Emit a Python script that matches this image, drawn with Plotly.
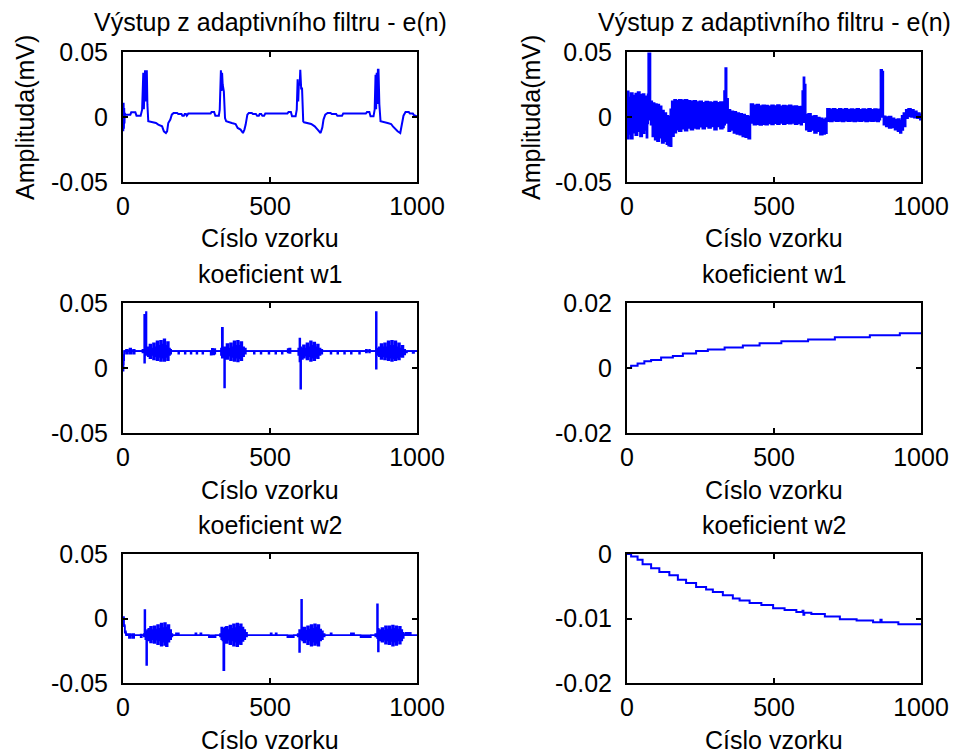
import plotly.graph_objects as go

# ---------------- data ----------------
# Panel 1: e(n), left column
e1_x = [0, 1, 2, 3, 4, 5, 6, 8, 25, 28, 42, 46, 60, 65, 69, 71, 73, 75, 77, 79, 81, 83, 86,
        112, 120, 133, 139, 146, 150, 154, 161, 166, 172, 184, 188, 199, 202, 207, 210, 214, 217, 222,
        298, 301, 310, 314, 326, 329, 333, 335, 337, 339, 341, 343, 347, 351, 370, 383, 390, 400,
        408, 413, 417, 423, 428, 438, 442, 452, 456, 462, 465, 470, 474, 480, 484,
        559, 563, 571, 575, 587, 591, 594, 596, 598, 601, 603, 606, 609, 613, 616, 640, 652, 662,
        672, 678, 682, 688, 696, 706, 710, 725, 729, 745, 749,
        826, 830, 838, 842, 852, 856, 859, 861, 863, 865, 867, 869, 872, 876, 900, 912, 918, 928,
        934, 943, 948, 954, 961, 972, 976, 986, 990, 1000]
e1_y = [0.008, -0.011, 0.011, -0.009, 0.007, -0.005, 0.003, 0.0018, 0.0018, 0.0036, 0.0036, 0.001,
        0.001, 0.0056, 0.034, 0.006, 0.03, 0.036, 0.012, 0.036, 0.036, 0.0095, -0.0033,
        -0.0046, -0.0059, -0.0072, -0.011, -0.0123, -0.011, -0.0046, -0.002, 0.0018, 0.0031, 0.0031,
        0.0023, 0.0023, 0.001, 0.001, 0.0023, 0.0023, 0.001, 0.0026,
        0.0026, 0.0038, 0.0038, 0.001, 0.001, 0.0056, 0.036, 0.02, 0.034, 0.025, 0.0197, 0.0197,
        -0.0008, -0.0033, -0.0046, -0.0054, -0.0084, -0.0097,
        -0.0123, -0.0097, -0.006, 0.0018, 0.0031, 0.0031, 0.0023, 0.0023, 0.001, 0.001, 0.0023,
        0.0023, 0.001, 0.001, 0.0026,
        0.0026, 0.0038, 0.0038, 0.0005, 0.0005, 0.0056, 0.029, 0.012, 0.0248, 0.0248, 0.0364, 0.022,
        0.022, -0.0033, -0.0041, -0.0054, -0.0072, -0.0097,
        -0.0123, -0.008, -0.002, 0.0018, 0.0031, 0.0031, 0.0023, 0.0023, 0.001, 0.001, 0.0026,
        0.0026, 0.0038, 0.0038, 0.0005, 0.0005, 0.0056, 0.0325, 0.006, 0.034, 0.01, 0.0364, 0.0364,
        0.0095, -0.0033, -0.0046, -0.0054, -0.0072, -0.0097,
        -0.011, -0.0123, -0.0054, 0.001, 0.0038, 0.0038, 0.0026, 0.0026, 0.0013, 0.0005]

# Panel 2: e(n), right column (noisy band: upper / lower envelope)
e2_x = [0, 6, 12, 20, 28, 36, 44, 52, 60, 66, 70, 72, 77, 80, 86, 94, 102, 110, 118, 126, 134,
        140, 147, 152, 160, 168, 176, 186, 196, 206, 216, 226, 236, 246, 256, 266, 276, 286, 296,
        306, 316, 326, 330, 334, 339, 344, 352, 362, 372, 382, 392, 402, 412, 420, 430, 440, 450,
        460, 470, 480, 490, 500, 510, 520, 530, 540, 550, 560, 570, 580, 590, 596, 600, 604, 608,
        616, 626, 636, 646, 656, 666, 674, 680, 690, 700, 710, 720, 730, 740, 750, 760, 770, 780,
        790, 800, 810, 820, 830, 840, 850, 858, 862, 868, 872, 880, 890, 900, 910, 920, 928, 934,
        940, 948, 956, 966, 976, 986, 996, 1000]
e2_hi = [0.0197, 0.015, 0.0185, 0.0165, 0.018, 0.0192, 0.017, 0.0177, 0.016, 0.015, 0.0175, 0.049,
         0.049, 0.012, 0.0108, 0.01, 0.0095, 0.0082, 0.005, 0.003, 0.001,
         0.0005, 0.006, 0.012, 0.0133, 0.0125, 0.0133, 0.0128, 0.0133, 0.0125, 0.012, 0.0125, 0.0115,
         0.012, 0.011, 0.0118, 0.0115, 0.0112, 0.0118,
         0.011, 0.0115, 0.011, 0.02, 0.0376, 0.014, 0.0056, 0.0044, 0.004, 0.0031, 0.0025, 0.0018,
         0.001, 0.0005, 0.01, 0.009, 0.0095, 0.0085,
         0.009, 0.0088, 0.0082, 0.009, 0.0085, 0.0092, 0.0082, 0.0088, 0.0085, 0.009, 0.0082, 0.0085,
         0.0078, 0.008, 0.02, 0.0305, 0.025, 0.0018,
         0.0025, 0.0005, 0.001, -0.0005, -0.001, -0.002, -0.001, 0.0064, 0.006, 0.0064, 0.0056,
         0.0064, 0.0058, 0.0064, 0.0056, 0.0062, 0.0058, 0.0064,
         0.0056, 0.0062, 0.0058, 0.0064, 0.0056, 0.0062, 0.0058, 0.006, 0.0364, 0.035, 0.0005, 0.0,
         0.0003, -0.001, -0.002, -0.0015, -0.003, 0.001,
         0.0031, 0.0056, 0.0064, 0.0056, 0.0044, 0.0031, 0.002, 0.0015]
e2_lo = [-0.0166, -0.013, -0.0166, -0.012, -0.014, -0.011, -0.015, -0.0125, -0.01, -0.016, -0.005,
         -0.002, 0.0, -0.006, -0.015, -0.0174, -0.0187, -0.016, -0.02, -0.0187, -0.021,
         -0.022, -0.0225, -0.0148, -0.012, -0.0097, -0.011, -0.009, -0.0105, -0.0085, -0.0097,
         -0.0085, -0.009, -0.0075, -0.009, -0.0072, -0.0085, -0.0072, -0.0097,
         -0.0072, -0.009, -0.008, -0.006, -0.004, -0.0046, -0.011, -0.01, -0.0123, -0.013, -0.0136,
         -0.015, -0.0156, -0.0166, -0.0046, -0.006, -0.0055, -0.0062,
         -0.0055, -0.006, -0.005, -0.0058, -0.0048, -0.0055, -0.0046, -0.0055, -0.0048, -0.0052,
         -0.0046, -0.0055, -0.005, -0.006, -0.004, -0.003, -0.004, -0.0097,
         -0.011, -0.01, -0.0123, -0.011, -0.0136, -0.013, -0.0125, -0.0033, -0.0035, -0.0028,
         -0.0033, -0.003, -0.0035, -0.0028, -0.0033, -0.003, -0.0035, -0.003,
         -0.0033, -0.0028, -0.0035, -0.003, -0.0033, -0.003, -0.0035, -0.002, 0.0, 0.001, -0.006,
         -0.0072, -0.0085, -0.008, -0.0097, -0.011, -0.0123, -0.01,
         -0.0072, -0.001, 0.0005, 0.0, -0.0005, -0.001, -0.002, -0.0025]

# Panel 3: coefficient w1, left column -- rows of (sample, upper, lower)
w1l_rows = [
    (0, 0.003, -0.002), (2, 0.010, 0.006), (4, 0.013, 0.013), (10, 0.014, 0.011),
    (16, 0.013, 0.013), (22, 0.015, 0.011), (28, 0.013, 0.013), (34, 0.014, 0.011),
    (40, 0.013, 0.013), (62, 0.013, 0.013), (66, 0.014, 0.012), (70, 0.013, 0.013),
    (72, 0.041, 0.004), (75, 0.015, 0.010), (78, 0.043, 0.012), (80, 0.015, 0.010),
    (84, 0.016, 0.009), (90, 0.018, 0.0075), (96, 0.015, 0.010), (102, 0.019, 0.0065),
    (108, 0.016, 0.009), (114, 0.0205, 0.006), (120, 0.017, 0.0085), (126, 0.021, 0.0055),
    (132, 0.018, 0.008), (138, 0.022, 0.0055), (144, 0.017, 0.0085), (150, 0.020, 0.006),
    (156, 0.015, 0.010), (160, 0.014, 0.011), (164, 0.013, 0.013), (188, 0.013, 0.011),
    (191, 0.013, 0.013), (210, 0.013, 0.011), (213, 0.013, 0.013), (230, 0.013, 0.011),
    (233, 0.013, 0.013), (250, 0.013, 0.011), (253, 0.013, 0.013), (270, 0.013, 0.011),
    (273, 0.013, 0.013), (298, 0.013, 0.0103), (302, 0.0147, 0.011), (306, 0.014, 0.0105),
    (310, 0.0145, 0.011), (314, 0.013, 0.013), (330, 0.013, 0.013), (333, 0.015, 0.010),
    (336, 0.031, 0.008), (340, 0.016, 0.010), (344, 0.013, -0.015), (347, 0.016, 0.009),
    (352, 0.0185, 0.007), (358, 0.015, 0.0095), (364, 0.019, 0.006), (370, 0.016, 0.0085),
    (376, 0.0205, 0.0055), (382, 0.017, 0.008), (388, 0.021, 0.005), (394, 0.017, 0.0075),
    (400, 0.020, 0.006), (406, 0.016, 0.009), (412, 0.015, 0.011), (418, 0.013, 0.013),
    (445, 0.013, 0.011), (448, 0.013, 0.013), (468, 0.013, 0.011), (471, 0.013, 0.013),
    (495, 0.013, 0.011), (498, 0.013, 0.013), (518, 0.013, 0.011), (521, 0.013, 0.013),
    (540, 0.013, 0.011), (543, 0.013, 0.013), (560, 0.0145, 0.012), (565, 0.015, 0.0115),
    (570, 0.013, 0.013), (592, 0.013, 0.013), (596, 0.015, 0.010), (600, 0.0226, 0.005),
    (603, 0.016, -0.016), (606, 0.015, 0.007), (612, 0.0175, 0.008), (618, 0.015, 0.0095),
    (624, 0.019, 0.0065), (630, 0.016, 0.009), (636, 0.0205, 0.0055), (642, 0.017, 0.008),
    (648, 0.0195, 0.006), (654, 0.016, 0.0085), (660, 0.018, 0.0075), (666, 0.015, 0.010),
    (672, 0.014, 0.011), (678, 0.013, 0.013), (706, 0.013, 0.011), (709, 0.013, 0.013),
    (729, 0.013, 0.011), (732, 0.013, 0.013), (752, 0.013, 0.011), (755, 0.013, 0.013),
    (775, 0.013, 0.011), (778, 0.013, 0.013), (803, 0.013, 0.011), (806, 0.013, 0.013),
    (826, 0.014, 0.012), (830, 0.013, 0.013), (837, 0.014, 0.012), (840, 0.013, 0.013),
    (856, 0.013, 0.013), (860, 0.043, -0.0005), (863, 0.015, 0.010), (870, 0.016, 0.009),
    (876, 0.0185, 0.007), (882, 0.016, 0.009), (888, 0.019, 0.0065), (894, 0.016, 0.0085),
    (900, 0.0205, 0.006), (906, 0.017, 0.008), (912, 0.021, 0.0055), (918, 0.017, 0.0075),
    (924, 0.0205, 0.006), (930, 0.016, 0.008), (936, 0.019, 0.0065), (942, 0.015, 0.009),
    (948, 0.017, 0.0085), (954, 0.014, 0.0105), (960, 0.013, 0.012), (966, 0.013, 0.013),
    (985, 0.013, 0.0115), (990, 0.013, 0.013), (1000, 0.013, 0.013),
]

# Panel 4: coefficient w2, left column -- rows of (sample, upper, lower)
w2l_rows = [
    (0, 0.001, 0.001), (3, -0.005, -0.006), (6, -0.010, -0.011), (10, -0.012, -0.013),
    (15, -0.013, -0.013), (20, -0.012, -0.015), (26, -0.013, -0.013), (32, -0.012, -0.015),
    (38, -0.013, -0.013), (56, -0.013, -0.013), (60, -0.0125, -0.0145), (64, -0.013, -0.013),
    (71, -0.012, -0.014), (73, 0.0066, -0.012), (76, -0.010, -0.016), (79, -0.010, -0.036),
    (82, -0.009, -0.016), (86, -0.008, -0.017), (92, -0.0065, -0.0185), (98, -0.009, -0.016),
    (104, -0.006, -0.019), (110, -0.0085, -0.0165), (116, -0.005, -0.020), (122, -0.008, -0.017),
    (128, -0.004, -0.021), (134, -0.0075, -0.018), (140, -0.0035, -0.0205), (146, -0.007, -0.0215),
    (152, -0.005, -0.018), (158, -0.009, -0.016), (164, -0.012, -0.014), (168, -0.013, -0.013),
    (180, -0.0115, -0.013), (190, -0.013, -0.013), (246, -0.0115, -0.013), (250, -0.013, -0.013),
    (263, -0.0115, -0.013), (267, -0.013, -0.013), (292, -0.013, -0.0145), (315, -0.013, -0.013),
    (330, -0.012, -0.014), (334, -0.007, -0.016), (338, -0.008, -0.017), (341, -0.008, -0.040),
    (345, -0.007, -0.018), (350, -0.0065, -0.019), (356, -0.009, -0.0165), (362, -0.0055, -0.020),
    (368, -0.008, -0.017), (374, -0.0045, -0.021), (380, -0.0075, -0.018), (386, -0.004, -0.0215),
    (392, -0.0065, -0.019), (398, -0.0045, -0.020), (404, -0.007, -0.0175), (410, -0.009, -0.016),
    (416, -0.011, -0.014), (422, -0.013, -0.013), (502, -0.0115, -0.013), (506, -0.013, -0.013),
    (519, -0.0115, -0.013), (523, -0.013, -0.013), (559, -0.013, -0.0145), (581, -0.013, -0.013),
    (594, -0.012, -0.014), (599, -0.009, -0.026), (602, -0.009, -0.016), (606, 0.0145, -0.016),
    (609, -0.009, -0.017), (614, -0.007, -0.0185), (620, -0.0095, -0.016), (626, -0.006, -0.020),
    (632, -0.0085, -0.017), (638, -0.005, -0.021), (644, -0.008, -0.018), (650, -0.0045, -0.0205),
    (656, -0.007, -0.019), (662, -0.005, -0.021), (668, -0.0085, -0.017), (674, -0.010, -0.016),
    (680, -0.012, -0.014), (686, -0.013, -0.013), (706, -0.0115, -0.013), (710, -0.013, -0.013),
    (775, -0.0115, -0.013), (786, -0.013, -0.013), (808, -0.013, -0.0145), (843, -0.013, -0.013),
    (858, -0.012, -0.014), (864, 0.011, -0.015), (867, -0.008, -0.0255), (870, -0.009, -0.017),
    (874, -0.009, -0.016), (879, -0.0075, -0.018), (885, -0.0095, -0.0165), (891, -0.006, -0.0195),
    (897, -0.0085, -0.017), (903, -0.006, -0.020), (909, -0.0085, -0.0175), (915, -0.0055, -0.021),
    (921, -0.008, -0.018), (927, -0.006, -0.0205), (933, -0.0085, -0.017), (939, -0.0065, -0.0195),
    (945, -0.009, -0.017), (950, -0.011, -0.015), (955, -0.012, -0.013), (962, -0.011, -0.013),
    (979, -0.013, -0.013), (1000, -0.013, -0.013),
]

# Panel 5: coefficient w1, right column (staircase)
w1r_x = [0, 14, 36, 59, 82, 116, 156, 190, 235, 275, 332, 394, 451, 525, 616, 707, 826, 928, 1000]
w1r_y = [0.0, 0.0007, 0.0014, 0.0021, 0.0025, 0.0032, 0.0037, 0.0045, 0.0052, 0.0057, 0.0063,
         0.0069, 0.0076, 0.0082, 0.0088, 0.0095, 0.0101, 0.0107, 0.0107]

# Panel 6: coefficient w2, right column (staircase)
w2r_x = [0, 14, 36, 53, 82, 110, 144, 173, 201, 235, 269, 292, 326, 360, 383, 417, 457, 497, 536,
         576, 597, 600, 603, 627, 673, 724, 781, 837, 862, 866, 923, 1000]
w2r_y = [0.0, -0.0004, -0.0009, -0.0016, -0.0022, -0.0028, -0.0033, -0.004, -0.0045, -0.0051,
         -0.0055, -0.0059, -0.0064, -0.0069, -0.0072, -0.0076, -0.0079, -0.0084, -0.0087, -0.009,
         -0.0088, -0.0094, -0.0091, -0.0093, -0.0097, -0.0101, -0.0103, -0.0106, -0.0102, -0.0106,
         -0.0109, -0.0109]

# Axis ticks
x_ticks = [0, 500, 1000]
x_tick_text = ["0", "500", "1000"]
y_ticks_big = [-0.05, 0, 0.05]
y_tick_text_big = ["-0.05", "0", "0.05"]
y_ticks_w1 = [-0.02, 0, 0.02]
y_tick_text_w1 = ["-0.02", "0", "0.02"]
y_ticks_w2 = [-0.02, -0.01, 0]
y_tick_text_w2 = ["-0.02", "-0.01", "0"]

titles = ["Výstup z adaptivního filtru - e(n)", "Výstup z adaptivního filtru - e(n)",
          "koeficient w1", "koeficient w1", "koeficient w2", "koeficient w2"]
x_label = "Císlo vzorku"
y_label = "Amplituda(mV)"

# ---------------- layout geometry (pixels of the target window) ----------------
W, H = 955, 753
col_px = [(123, 417), (627, 921)]
row_px = [(52, 182), (303, 433), (554, 683)]
title_y = [22, 274, 525]
xlab_y = [238, 490, 740]
FONT = "Liberation Sans, Arial, Helvetica, sans-serif"
FS = 25
BLUE = "#0000ff"

def px_x(p):
    return p / W

def px_y(p):
    return 1 - p / H

fig = go.Figure()

def axname(i, kind):
    return kind if i == 1 else f"{kind}{i}"

panel_ranges = [[-0.05, 0.05], [-0.05, 0.05], [-0.05, 0.05], [-0.02, 0.02], [-0.05, 0.05], [-0.02, 0]]
panel_yt = [(y_ticks_big, y_tick_text_big)] * 3 + [(y_ticks_w1, y_tick_text_w1),
                                                   (y_ticks_big, y_tick_text_big),
                                                   (y_ticks_w2, y_tick_text_w2)]
# panel order: 1 e(n) L, 2 e(n) R, 3 w1 L, 4 w1 R, 5 w2 L, 6 w2 R

def add_band(i, xs, hi, lo):
    xa, ya = axname(i, "x"), axname(i, "y")
    fig.add_trace(go.Scatter(x=xs, y=hi, mode="lines", line=dict(color=BLUE, width=1.6, shape="hv"),
                             xaxis=xa, yaxis=ya, showlegend=False, hoverinfo="skip"))
    fig.add_trace(go.Scatter(x=xs, y=lo, mode="lines", line=dict(color=BLUE, width=1.6, shape="hv"),
                             fill="tonexty", fillcolor=BLUE,
                             xaxis=xa, yaxis=ya, showlegend=False, hoverinfo="skip"))

def add_rows(i, rows):
    add_band(i, [r[0] for r in rows], [r[1] for r in rows], [r[2] for r in rows])

def add_line(i, xs, ys, shape="linear"):
    fig.add_trace(go.Scatter(x=xs, y=ys, mode="lines", line=dict(color=BLUE, width=2, shape=shape),
                             xaxis=axname(i, "x"), yaxis=axname(i, "y"), showlegend=False,
                             hoverinfo="skip"))

add_line(1, e1_x, e1_y)
add_band(2, e2_x, e2_hi, e2_lo)
add_rows(3, w1l_rows)
add_line(4, w1r_x, w1r_y, shape="hv")
add_rows(5, w2l_rows)
add_line(6, w2r_x, w2r_y, shape="hv")

layout = dict(width=W, height=H, margin=dict(l=0, r=0, t=0, b=0, pad=0, autoexpand=False),
              paper_bgcolor="white", plot_bgcolor="white", template="none",
              font=dict(family=FONT, size=FS, color="black"), showlegend=False)
annotations = []
for i in range(1, 7):
    r = (i - 1) // 2
    c = (i - 1) % 2
    x0, x1 = col_px[c]
    y0, y1 = row_px[r]
    xd = [px_x(x0), px_x(x1)]
    yd = [px_y(y1), px_y(y0)]
    axis_common = dict(showline=True, linecolor="black", linewidth=2, mirror="ticks",
                       ticks="inside", ticklen=5, tickwidth=2, tickcolor="black",
                       showgrid=False, zeroline=False, automargin=False,
                       tickfont=dict(family=FONT, size=FS, color="black"))
    layout[axname(i, "xaxis")] = dict(domain=xd, range=[0, 1000], tickvals=x_ticks,
                                      ticktext=x_tick_text, anchor=axname(i, "y"),
                                      ticklabelstandoff=1, **axis_common)
    yt, ytt = panel_yt[i - 1]
    layout[axname(i, "yaxis")] = dict(domain=yd, range=panel_ranges[i - 1], tickvals=yt,
                                      ticktext=ytt, anchor=axname(i, "x"),
                                      ticklabelstandoff=8, **axis_common)
    cx = px_x((x0 + x1) / 2)
    annotations.append(dict(text=titles[i - 1], x=cx, y=px_y(title_y[r]), xref="paper",
                            yref="paper", xanchor="center", yanchor="middle", showarrow=False,
                            font=dict(family=FONT, size=FS, color="black")))
    annotations.append(dict(text=x_label, x=cx, y=px_y(xlab_y[r]), xref="paper",
                            yref="paper", xanchor="center", yanchor="middle", showarrow=False,
                            font=dict(family=FONT, size=FS, color="black")))
for lx in (25, 531):
    annotations.append(dict(text=y_label, x=px_x(lx), y=px_y(118), xref="paper", yref="paper",
                            xanchor="center", yanchor="middle", textangle=-90, showarrow=False,
                            font=dict(family=FONT, size=FS, color="black")))
layout["annotations"] = annotations
fig.update_layout(**layout)

# remove the browser's default page margin so the 955x753 figure fills the window exactly
page_css = ("document.body.style.margin='0';document.body.style.padding='0';"
            "document.body.style.overflow='hidden';")
fig.write_html("out.html", post_script=page_css, config={"displayModeBar": False})
